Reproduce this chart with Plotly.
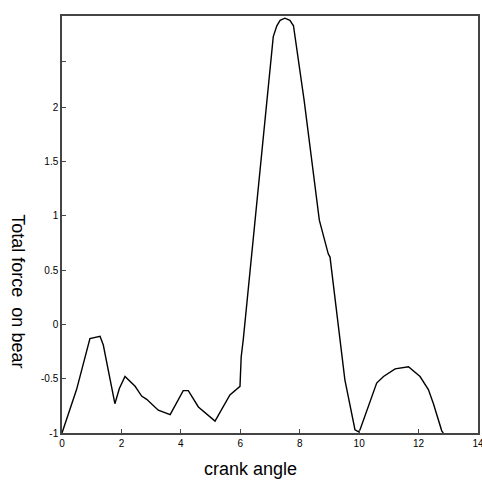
import plotly.graph_objects as go

crank_angle = [0, 0.49, 0.94, 1.28, 1.39, 1.78, 1.93, 2.12, 2.46, 2.68, 2.85, 3.24, 3.64,
               4.08, 4.25, 4.59, 5.15, 5.54, 5.65, 5.99, 6.03, 6.10, 6.50, 6.89, 7.11,
               7.23, 7.34, 7.5, 7.67, 7.79, 7.95, 8.15, 8.66, 8.96, 9.02, 9.36, 9.52, 9.86,
               9.98, 10.03, 10.59, 10.82, 11.21, 11.66, 12.05, 12.33, 12.5, 12.78, 12.83]
total_force = [-1, -0.6, -0.13, -0.11, -0.19, -0.73, -0.59, -0.48, -0.57, -0.66, -0.69, -0.79, -0.83,
               -0.61, -0.61, -0.76, -0.89, -0.70, -0.65, -0.57, -0.30, -0.14, 0.96, 2.06, 2.65,
               2.75, 2.80, 2.82, 2.80, 2.75, 2.46, 2.06, 0.96, 0.65, 0.62, -0.14, -0.51, -0.97,
               -0.99, -0.97, -0.54, -0.48, -0.41, -0.39, -0.48, -0.60, -0.73, -0.98, -1.0]

x_ticks = [0, 2, 4, 6, 8, 10, 12, 14]
x_tick_labels = ["0", "2", "4", "6", "8", "10", "12", "14"]
y_ticks = [-1, -0.5, 0, 0.5, 1, 1.5, 2, 2.42]
y_tick_labels = ["-1", "-0.5", "0", "0.5", "1", "1.5", "2", ""]

fig = go.Figure()
fig.add_trace(go.Scatter(x=crank_angle, y=total_force, mode="lines",
                         line=dict(color="black", width=1.4), showlegend=False))

axis_common = dict(showgrid=False, zeroline=False, showline=True, linecolor="#444444",
                   linewidth=1.5, mirror=True, ticks="inside", ticklen=4, tickcolor="#444444",
                   ticklabeloverflow="allow",
                   tickfont=dict(family="Liberation Sans, Arial", size=10, color="black"))

fig.update_xaxes(range=[0, 14], tickvals=x_ticks, ticktext=x_tick_labels, **axis_common)
fig.update_yaxes(range=[-1, 2.84], tickvals=y_ticks, ticktext=y_tick_labels, **axis_common)

title_font = dict(family="Liberation Sans, Arial", size=18, color="black")
fig.add_annotation(text="crank angle", xref="paper", yref="paper",
                   x=0.454, y=-0.087, showarrow=False, xanchor="center", yanchor="middle",
                   font=title_font)
fig.add_annotation(text="Total force\u00a0 on bear", xref="paper", yref="paper",
                   x=-0.106, y=0.34, textangle=90, showarrow=False, xanchor="center", yanchor="middle",
                   font=title_font)

fig.update_layout(width=482, height=480, margin=dict(l=62, r=4, t=16, b=47, autoexpand=False),
                  plot_bgcolor="white", paper_bgcolor="white")

fig.write_html("out.html", config={"displayModeBar": False},
               post_script="document.body.style.margin='0';document.body.style.overflow='hidden';")
